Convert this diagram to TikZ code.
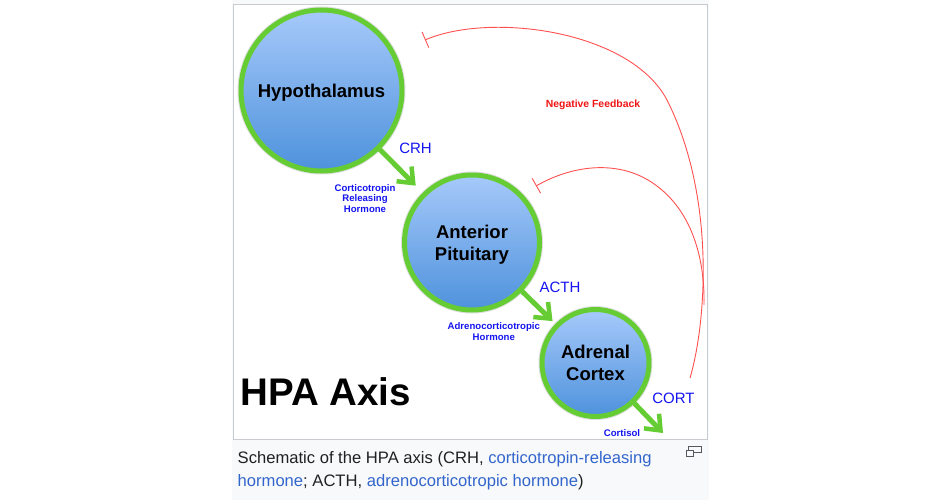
\documentclass[tikz,border=0pt]{standalone}
\usepackage{fontspec}
\setmainfont{Liberation Sans}
\usetikzlibrary{arrows.meta}
\definecolor{hgreen}{RGB}{102,204,51}
\definecolor{ctop}{RGB}{166,201,250}
\definecolor{cbot}{RGB}{78,146,220}
\definecolor{lblue}{RGB}{20,20,240}
\definecolor{fbred}{RGB}{255,80,80}
\definecolor{txtred}{RGB}{240,20,20}
\definecolor{capgray}{RGB}{248,249,250}
\definecolor{bordergray}{RGB}{200,204,209}
\definecolor{captext}{RGB}{32,33,34}
\definecolor{linkblue}{RGB}{51,102,204}
\definecolor{icongray}{RGB}{84,89,93}
\begin{document}
\begin{tikzpicture}[x=1pt,y=-1pt,
  organ/.style={circle,draw=hgreen,line width=5pt,inner sep=0pt,
    top color=ctop,bottom color=cbot,align=center,text depth=0pt,
    font=\bfseries\fontsize{18.5}{22}\selectfont,
    preaction={draw=black!25,line width=7pt,opacity=0.5}},
  hormone/.style={text=lblue,inner sep=0pt,font=\fontsize{15}{18}\selectfont},
  fullname/.style={text=lblue,inner sep=0pt,align=center,text depth=0pt,
    font=\bfseries\fontsize{9.6}{10.5}\selectfont},
  garrow/.style={draw=hgreen,line width=5pt,-{Straight Barb[length=13pt,width=21pt,line width=4.5pt]}},
  fbline/.style={draw=fbred,line width=0.9pt,-{Bar[width=17pt]}},
  captxt/.style={anchor=base west,inner sep=0pt,text=captext,font=\fontsize{16.6}{20}\selectfont}
]
\useasboundingbox (0,0) rectangle (940,500);
\fill[white] (0,0) rectangle (940,500);
% panel
\fill[capgray] (232,0) rectangle (709,500);
\filldraw[fill=white,draw=bordergray,line width=1pt] (233.5,4.5) rectangle (707.5,439);

% organs
\node[organ,minimum size=161pt] (hyp) at (321.5,90.5) {Hypothalamus};
\node[organ,minimum size=135pt] (pit) at (472,242.5) {Anterior\\Pituitary};
\node[organ,minimum size=107pt] (adr) at (595.5,363) {Adrenal\\Cortex};

% hormone arrows
\coordinate (cortend) at (663,433);
\draw[garrow,shorten >=10pt] (hyp) -- (pit);
\draw[garrow,shorten >=4pt] (pit) -- (adr);
\draw[garrow] (adr) -- (cortend);

% labels
\node[hormone] (crh) at (415.5,148) {CRH};
\node[hormone] (acth) at (560,287.5) {ACTH};
\node[hormone] (cort) at (673.5,398.5) {CORT};
\node[fullname] (crhn) at (365,198.5) {Corticotropin\\Releasing\\Hormone};
\node[fullname] (acthn) at (493.8,331.5) {Adrenocorticotropic\\Hormone};
\node[fullname] (cortn) at (622,433.5) {Cortisol};
\node[anchor=base west,inner sep=0pt,font=\bfseries\fontsize{38.5}{40}\selectfont] (title) at (240.5,405) {HPA Axis};

% negative feedback
\coordinate (fb1s) at (690,378);
\coordinate (fb1m) at (667,100);
\coordinate (fb1e) at (425,40);
\draw[fbline] (fb1s) .. controls (707,320) and (715,195) .. (fb1m)
  .. controls (630,30) and (490,12) .. (fb1e);
\coordinate (fb2s) at (704,305);
\coordinate (fb2m) at (648,180);
\coordinate (fb2e) at (536,186);
\draw[fbline] (fb2s) .. controls (705,255) and (690,205) .. (fb2m)
  .. controls (614,160) and (571,166) .. (fb2e);
\node[text=txtred,inner sep=0pt,text depth=0pt,font=\bfseries\fontsize{10.4}{12}\selectfont] (nf) at (593,104) {Negative Feedback};

% caption
\node[captxt] (cap1) at (237.5,463) {Schematic of the HPA axis (CRH, \textcolor{linkblue}{corticotropin-releasing}};
\node[captxt] (cap2) at (237.5,486) {\textcolor{linkblue}{hormone}; ACTH, \textcolor{linkblue}{adrenocorticotropic hormone})};
% enlarge icon
\draw[icongray,line width=1pt] (688.5,446.5) rectangle (701.5,452.5);
\filldraw[draw=icongray,fill=capgray,line width=1pt] (686.5,450.5) rectangle (693.5,456);
\end{tikzpicture}
\end{document}
